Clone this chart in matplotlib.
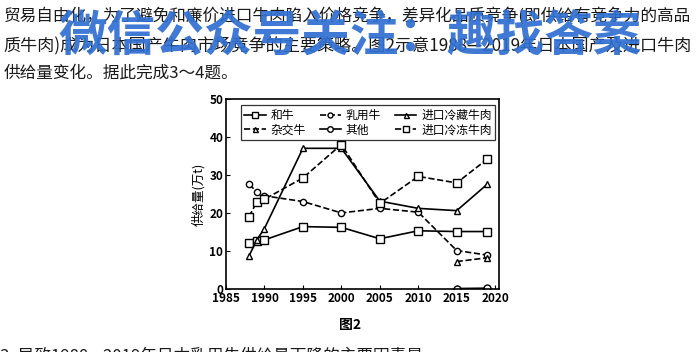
import numpy as np
import matplotlib.pyplot as plt
from matplotlib.lines import Line2D

plt.rcParams['font.family'] = ['Noto Sans CJK SC', 'DejaVu Sans']

# data (万t)
years = [1988, 1989, 1990, 1995, 2000, 2005, 2010, 2015, 2019]
wagyu = [12.1, 12.6, 13.0, 16.5, 16.3, 13.3, 15.4, 15.2, 15.2]          # 和牛
dairy = [27.6, 25.7, 24.6, 23.1, 20.1, 21.3, 20.3, 10.2, 9.0]           # 乳用牛
chilled = [8.8, 13.0, 16.0, 37.1, 37.1, 23.2, 21.3, 20.7, 27.7]         # 进口冷藏牛肉
frozen = [19.1, 23.0, 23.7, 29.3, 38.1, 22.6, 29.7, 28.0, 34.3]         # 进口冷冻牛肉
years_new = [2015, 2019]
cross = [7.3, 8.3]      # 杂交牛
other = [0.2, 0.3]      # 其他

xticks = [1985, 1990, 1995, 2000, 2005, 2010, 2015, 2020]
yticks = [0, 10, 20, 30, 40, 50]

line1 = "贸易自由化，为了避免和廉价进口牛肉陷入价格竞争，差异化品质竞争(即供给有竞争力的高品"
line2 = "质牛肉)成为日本国产牛肉市场竞争的主要策略。图2示意1988—2019年日本国产及进口牛肉"
line3 = "供给量变化。据此完成3～4题。"
line4 = "3. 导致1988—2019年日本乳用牛供给量下降的主要因素是"
watermark = "微信公众号关注：趣找答案"

fig = plt.figure(figsize=(7, 3.52), dpi=100)
ax = fig.add_axes([226 / 700, 62.7 / 352, 273 / 700, 190 / 352])

k = dict(color='black', lw=1.2, mfc='white', mec='black', mew=1.0)
h1, = ax.plot(years, wagyu, '-', marker='s', ms=5.5, label='和牛', **k)
h2, = ax.plot(years, dairy, '--', marker='o', ms=4.5, label='乳用牛', **k)
h3, = ax.plot(years, chilled, '-', marker='^', ms=4.5, label='进口冷藏牛肉', **k)
h4, = ax.plot(years_new, cross, '--', marker='^', ms=4.5, label='杂交牛', **k)
h5, = ax.plot(years_new, other, '-', marker='o', ms=5, label='其他', **k)
h6, = ax.plot(years, frozen, '--', marker='s', ms=5.5, label='进口冷冻牛肉', **k)

ax.set_xlim(1985, 2020.5)
ax.set_ylim(0, 50)
ax.set_xticks(xticks)
ax.set_yticks(yticks)
ax.tick_params(direction='in', length=3, width=0.8, labelsize=8.5, pad=2)
for t in ax.get_xticklabels() + ax.get_yticklabels():
    t.set_fontweight('bold')
for s in ax.spines.values():
    s.set_linewidth(1.2)
ax.set_ylabel('供给量(万t)', fontsize=9, labelpad=3)

leg = ax.legend(handles=[h1, h4, h2, h5, h3, h6], ncol=3, loc='upper center',
                bbox_to_anchor=(0.52, 1.0), fontsize=8.5, frameon=True, fancybox=False,
                edgecolor='black', handlelength=1.8, handletextpad=0.4, columnspacing=1.2,
                labelspacing=0.15, borderpad=0.3, markerscale=0.8)
leg.get_frame().set_linewidth(0.9)

# page text
fig.text(0.005, 1 - 16 / 352, line1, fontsize=12.0, va='center', ha='left', color='#1a1a1a')
fig.text(0.005, 1 - 45 / 352, line2, fontsize=12.3, va='center', ha='left', color='#1a1a1a')
fig.text(0.005, 1 - 73 / 352, line3, fontsize=12.0, va='center', ha='left', color='#1a1a1a')
fig.text(0.5, 1 - 325 / 352, '图2', fontsize=10, fontweight='bold', va='center', ha='center')
fig.text(0.0, 1 - 356 / 352, line4, fontsize=12, va='center', ha='left', color='#1a1a1a')
fig.text(0.5, 1 - 37 / 352, watermark, fontsize=35, fontweight='bold', va='center',
         ha='center', color='#2f6fd2', alpha=0.92)

fig.savefig('out.png', dpi=100)
